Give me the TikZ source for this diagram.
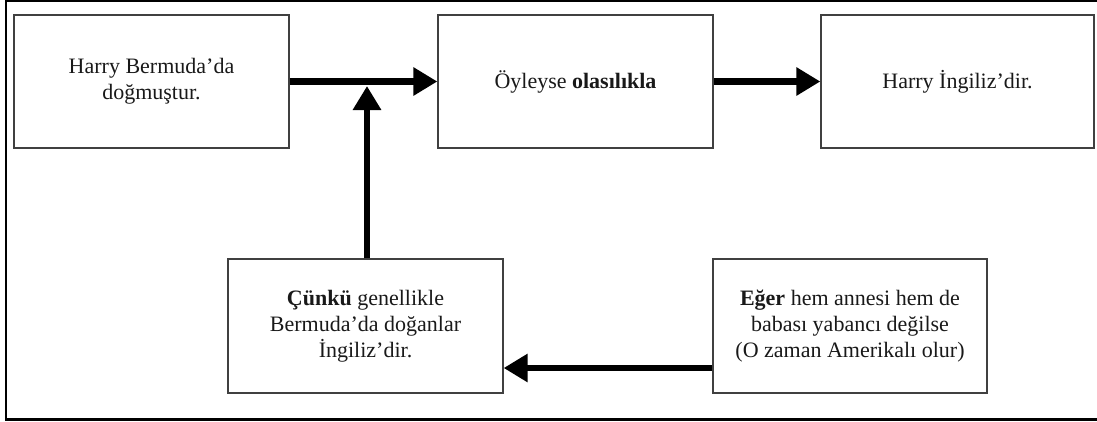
\documentclass[tikz,border=0pt]{standalone}
\usepackage{fontspec}
\setmainfont{Liberation Serif}
\usetikzlibrary{arrows.meta}
\begin{document}
\begin{tikzpicture}[x=1pt,y=-1pt,
  box/.style={draw=black!75, line width=1.3pt, minimum width=275pt, minimum height=133pt,
    inner sep=0pt, align=center, text=black!90, font=\fontsize{22}{26}\selectfont},
  flow/.style={line width=6.5pt, -{Triangle[length=24pt,width=27pt]}}]
\useasboundingbox (0,0) rectangle (1097,421);
% outer frame (its right side runs past the page edge)
\begin{scope}
\clip (0,0) rectangle (1097,421);
\draw[line width=2.4pt] (6,1) rectangle (1104,419.3);
\end{scope}
% statements
\node[box] (born) at (151.5,81.5) {Harry Bermuda’da\\doğmuştur.};
\node[box] (so) at (575.5,81.5) {Öyleyse \textbf{olasılıkla}};
\node[box, minimum width=273pt] (brit) at (957.5,81.5) {Harry İngiliz’dir.};
\node[box, minimum height=134pt] (since) at (365.5,326) {\textbf{Çünkü} genellikle\\Bermuda’da doğanlar\\İngiliz’dir.};
\node[box, minimum width=274pt, minimum height=134pt] (unless) at (850,326) {\textbf{Eğer} hem annesi hem de\\babası yabancı değilse\\(O zaman Amerikalı olur)};
% connectors
\coordinate (j) at (367,86);
\coordinate (r) at (713,368);
\draw[flow] (born.east) -- (so.west);
\draw[flow] (so.east) -- (brit.west);
\draw[flow] (since.north -| j) -- (j);
\draw[flow] (r -| unless.west) -- (r -| since.east);
\end{tikzpicture}
\end{document}
